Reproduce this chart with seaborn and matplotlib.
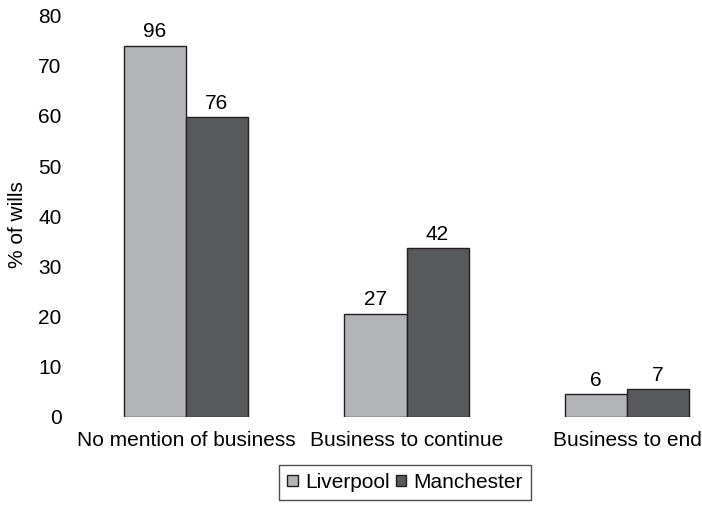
import pandas as pd
import matplotlib
matplotlib.use('Agg')
import matplotlib.pyplot as plt
import seaborn as sns

sns.set_style("white")
plt.rcParams['font.family'] = ['Liberation Sans', 'DejaVu Sans']
plt.rcParams['text.color'] = 'black'
plt.rcParams['xtick.color'] = 'black'
plt.rcParams['ytick.color'] = 'black'
plt.rcParams['axes.labelcolor'] = 'black'

# Data
categories = ['No mention of business', 'Business to continue', 'Business to end']
cities = ['Liverpool', 'Manchester']
liverpool_pct = [74.0, 20.6, 4.6]
manchester_pct = [59.7, 33.6, 5.5]
liverpool_n = [96, 27, 6]
manchester_n = [76, 42, 7]
yticks = [0, 10, 20, 30, 40, 50, 60, 70, 80]

df = pd.DataFrame({
    'category': categories * 2,
    'city': [cities[0]] * 3 + [cities[1]] * 3,
    'pct': liverpool_pct + manchester_pct,
})

fs = 15

fig = plt.figure(figsize=(7.02, 5.05), dpi=100)
ax = fig.add_axes([0.0997, 0.1745, 0.9003, 0.7948])

palette = {'Liverpool': '#b3b4b8', 'Manchester': '#58595b'}
sns.barplot(data=df, x='category', y='pct', hue='city', order=categories,
            hue_order=cities, palette=palette, width=0.5624, gap=0,
            edgecolor='#231f20', linewidth=1, saturation=1, ax=ax)

for cont, labels in zip(ax.containers, [liverpool_n, manchester_n]):
    ax.bar_label(cont, labels=[str(v) for v in labels], padding=3, fontsize=fs)

ax.set_ylim(0, 80)
ax.set_xlim(-0.526, 2.34)
ax.set_yticks(yticks)
ax.tick_params(axis='both', length=0, labelsize=fs)
ax.tick_params(axis='y', pad=6)
ax.tick_params(axis='x', pad=10)
ax.set_xlabel('')
ax.set_ylabel('% of wills', fontsize=fs)
ax.yaxis.set_label_coords(-0.068, 0.478)
sns.despine(ax=ax, left=True, bottom=True)

ax.get_legend().remove()
handles = [plt.Rectangle((0, 0), 1, 1, facecolor=palette[c], edgecolor='#231f20', linewidth=1)
           for c in cities]
leg = fig.legend(handles, cities, loc='upper center', bbox_to_anchor=(0.577, 0.08),
                 ncol=2, fontsize=fs, frameon=True, fancybox=False, handlelength=0.5,
                 handleheight=0.5, handletextpad=0.35, columnspacing=0.3,
                 borderpad=0.4, borderaxespad=0)
leg.get_frame().set_edgecolor('#231f20')
leg.get_frame().set_linewidth(1)

fig.savefig('out.png', dpi=100)
plt.close(fig)
